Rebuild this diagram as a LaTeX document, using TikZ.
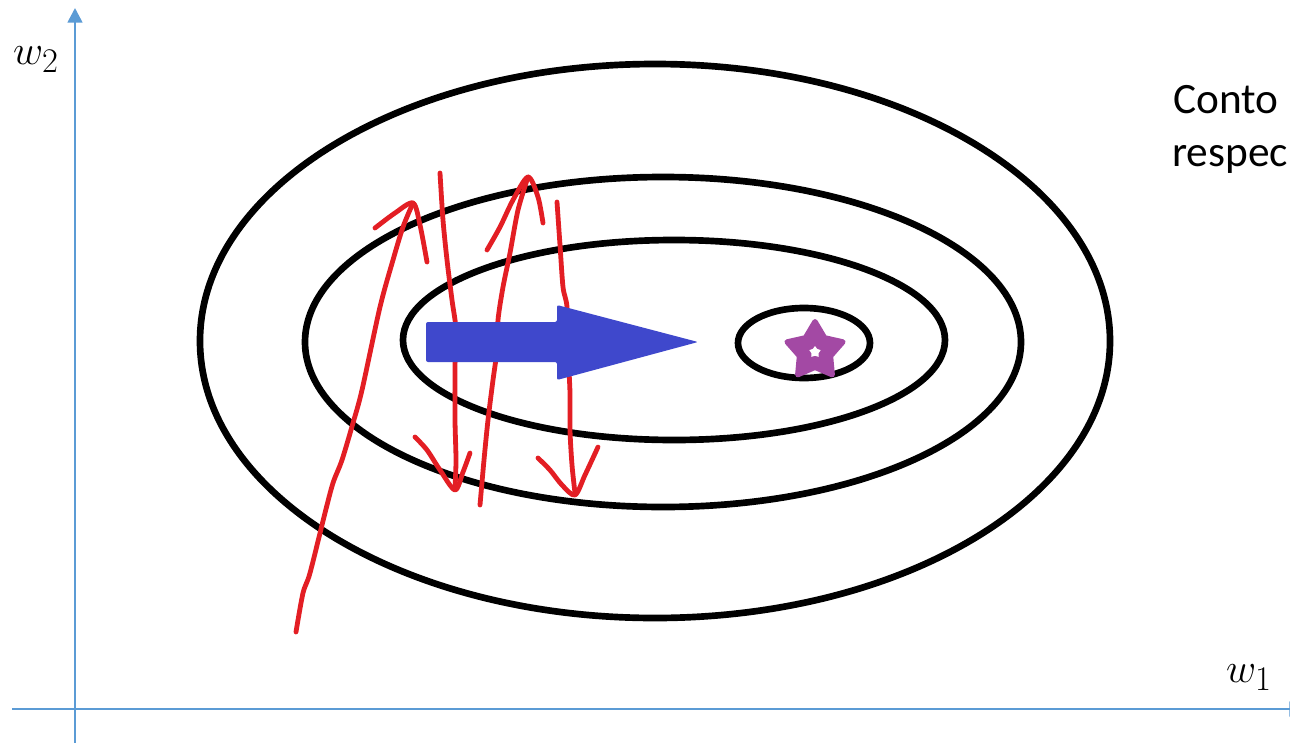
\documentclass[tikz,border=0pt]{standalone}
\usepackage{fontspec}
\newfontfamily\calibri{Carlito}
\usetikzlibrary{shapes.geometric,arrows.meta}
\definecolor{axisblue}{HTML}{5B9BD5}
\definecolor{penred}{HTML}{E31E24}
\definecolor{arrowblue}{HTML}{3F48CC}
\definecolor{starpurple}{HTML}{A349A4}
\begin{document}
\begin{tikzpicture}[x=0.75pt,y=-0.75pt,
  contour/.style={draw=black,line width=5pt},
  pen/.style={draw=penred,line width=3.6pt,line cap=round,line join=round},
  axisline/.style={draw=axisblue,line width=2pt,-{Triangle[length=11pt,width=11pt]}},
  axislabel/.style={font=\Huge,inner sep=0pt},
  sidetext/.style={font=\calibri\fontsize{32.5}{40}\selectfont,anchor=base west,inner sep=0pt}]
\useasboundingbox (0,0) rectangle (1290,743);
\clip (0,0) rectangle (1290,743);
\fill[white] (0,0) rectangle (1290,743);

% axes
\coordinate (ybot) at (75,760);
\coordinate (ytop) at (75,8);
\coordinate (xleft) at (12,709);
\coordinate (xright) at (1304,709);
\draw[axisline] (ybot) -- (ytop);
\draw[axisline] (xleft) -- (xright);
\node[axislabel] (w2) at (36,60) {\scalebox{1.25}{$w_2$}};
\node[axislabel] (w1) at (1249,678) {\scalebox{1.25}{$w_1$}};

% side text (as far as the picture shows it)
\node[sidetext] (t1) at (1173,113) {Conto};
\node[sidetext] (t2) at (1172,166) {respec};

% contours
\draw[contour] (655,341) ellipse [x radius=455, y radius=277];
\draw[contour] (663,342) ellipse [x radius=358, y radius=165];
\draw[contour] (674,340) ellipse [x radius=271, y radius=100];
\draw[contour] (804,343) ellipse [x radius=66, y radius=35];

% red zig-zag path
\draw[pen] plot[smooth] coordinates {(296,632) (303,593) (310,573) (325,513) (333,483) (342,460) (353,423) (362,390) (380,307) (393,260) (403,227) (413,203)};
\draw[pen] plot[smooth] coordinates {(375,228) (395,213) (413,203) (420,225) (427,262)};

\draw[pen] plot[smooth] coordinates {(440,173) (443,220) (447,260) (452,300) (456,330) (455,367) (455,420) (456,460) (455,488)};
\draw[pen] plot[smooth] coordinates {(415,437) (427,450) (440,470) (455,490) (463,472) (470,453)};

\draw[pen] plot[smooth] coordinates {(480,505) (484,460) (488,420) (493,380) (497,350) (498,320) (503,287) (510,253) (518,210) (528,177)};
\draw[pen] plot[smooth] coordinates {(487,250) (500,227) (513,200) (528,177) (538,197) (543,223)};

\draw[pen] plot[smooth] coordinates {(557,202) (560,245) (563,287) (567,307) (568,350) (570,393) (570,430) (572,465) (575,493)};
\draw[pen] plot[smooth] coordinates {(538,458) (550,470) (562,485) (575,495) (585,475) (598,447)};

% blue arrow
\fill[arrowblue,rounded corners=1.5pt] (426,322) -- (557,322) -- (557,305) -- (698,342) -- (557,380) -- (557,362) -- (426,362) -- cycle;

% optimum star
\node[star,star points=5,star point ratio=1.8,minimum size=44pt,fill=starpurple,draw=starpurple,line width=4pt,line join=round,inner sep=0pt] (opt) at (815,351) {};
\node[star,star points=5,star point ratio=1.6,minimum size=9pt,fill=white,inner sep=0pt] (opthole) at (815,352) {};
\end{tikzpicture}
\end{document}
